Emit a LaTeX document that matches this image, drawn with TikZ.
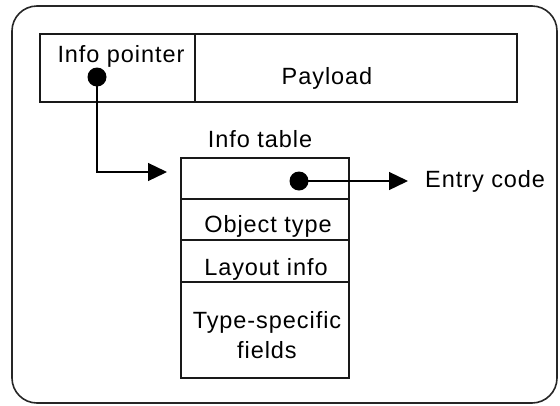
\documentclass[tikz,border=0pt]{standalone}
\usepackage{fontspec}
\setmainfont{Liberation Sans}[LetterSpace=4]
\usetikzlibrary{arrows.meta}
\begin{document}
\begin{tikzpicture}[x=1pt,y=-1pt,
  cell/.style={draw=black!90,line width=1.3pt,rectangle,inner sep=0pt},
  lbl/.style={inner sep=0pt,anchor=base,font=\fontsize{23.5}{28}\selectfont},
  dot/.style={circle,fill=black,inner sep=0pt,minimum size=19pt},
  arr/.style={line width=1.3pt,-{Triangle[length=19pt,width=18pt]}},
  outer/.style={draw=black!85,line width=1.6pt,rounded corners=25pt}]
\useasboundingbox (0,0) rectangle (560,405);
\node[outer,minimum width=545pt,minimum height=397pt,inner sep=0pt] (frame) at (284.5,204.5) {};
% top record
\node[cell,minimum width=155pt,minimum height=68pt] (ptr) at (117.5,68) {};
\node[cell,minimum width=322pt,minimum height=68pt] (pay) at (356,68) {};
\node[lbl] (ptrtxt) at (121,62) {Info pointer};
\node[lbl] (paytxt) at (327,84) {Payload};
% info table
\node[lbl] (ttl) at (260,147) {Info table};
\node[cell,minimum width=168pt,minimum height=41pt] (r1) at (265,178.5) {};
\node[cell,minimum width=168pt,minimum height=41pt] (r2) at (265,219.5) {};
\node[cell,minimum width=168pt,minimum height=42pt] (r3) at (265,261) {};
\node[cell,minimum width=168pt,minimum height=96pt] (r4) at (265,330) {};
\node[lbl] (r2txt) at (268,232) {Object type};
\node[lbl] (r3txt) at (266,275) {Layout info};
\node[lbl] (r4a) at (267,328) {Type-specific};
\node[lbl] (r4b) at (267,358) {fields};
\node[lbl,anchor=base west] (entry) at (425,187) {Entry code};
% pointers
\node[dot] (d1) at (97,77) {};
\node[dot] (d2) at (299,181) {};
\coordinate (tip1) at (167,172);
\coordinate (tip2) at (408,181);
\draw[arr] (d1.center) |- (tip1);
\draw[arr] (d2.center) -- (tip2);
\end{tikzpicture}
\end{document}
